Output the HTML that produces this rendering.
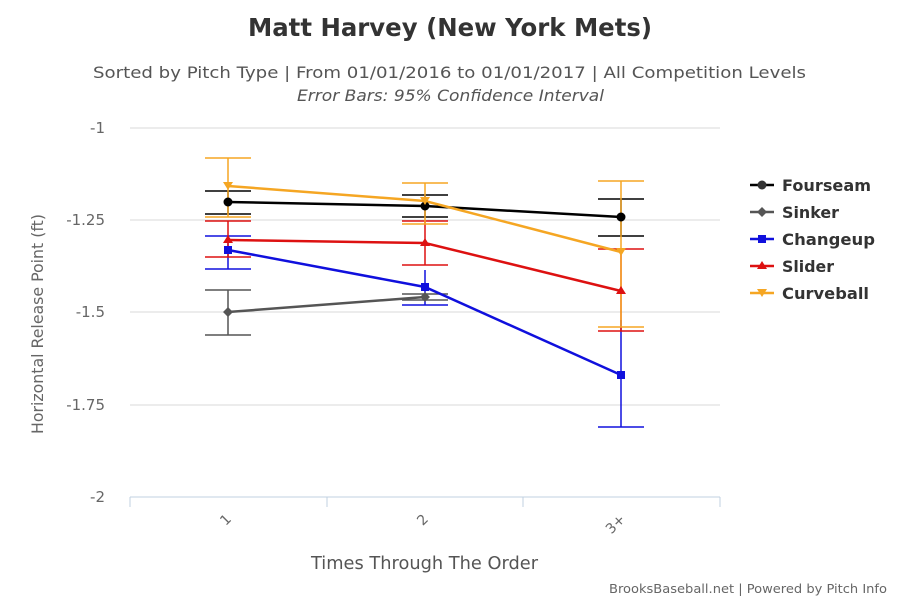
<!DOCTYPE html>
<html><head><style>body{margin:0;background:#fff}svg{display:block}text{font-family:"DejaVu Sans","Liberation Sans",sans-serif}</style></head><body>
<svg width="900" height="600" xmlns="http://www.w3.org/2000/svg">
<rect width="900" height="600" fill="#fff"/>
<text x="248" y="36" font-size="25" font-weight="bold" fill="#333" textLength="404" lengthAdjust="spacingAndGlyphs">Matt Harvey (New York Mets)</text>
<text x="93" y="78" font-size="16" fill="#555" textLength="713" lengthAdjust="spacingAndGlyphs">Sorted by Pitch Type | From 01/01/2016 to 01/01/2017 | All Competition Levels</text>
<text x="297" y="101" font-size="16" font-style="italic" fill="#555" textLength="307" lengthAdjust="spacingAndGlyphs">Error Bars: 95% Confidence Interval</text>
<g stroke="#d8d8d8" stroke-width="1">
<line x1="130" y1="128" x2="720" y2="128"/><line x1="130" y1="220" x2="720" y2="220"/>
<line x1="130" y1="312" x2="720" y2="312"/><line x1="130" y1="405" x2="720" y2="405"/>
</g>
<g stroke="#c0d0e0" stroke-width="1">
<line x1="130" y1="497" x2="720" y2="497"/>
<line x1="130" y1="497" x2="130" y2="507"/><line x1="327" y1="497" x2="327" y2="507"/>
<line x1="523" y1="497" x2="523" y2="507"/><line x1="720" y1="497" x2="720" y2="507"/>
</g>
<g font-size="15" fill="#666" text-anchor="end">
<text x="105" y="133">-1</text><text x="105" y="225">-1.25</text><text x="105" y="317">-1.5</text><text x="105" y="410">-1.75</text><text x="105" y="502">-2</text>
</g>
<g font-size="14" fill="#666" text-anchor="end">
<text transform="translate(232,520) rotate(-45)">1</text>
<text transform="translate(429,520) rotate(-45)">2</text>
<text transform="translate(626,520) rotate(-45)">3+</text>
</g>
<text transform="translate(43,434) rotate(-90)" font-size="16" fill="#666" textLength="220" lengthAdjust="spacingAndGlyphs">Horizontal Release Point (ft)</text>
<text x="311" y="569" font-size="18" fill="#555" textLength="227" lengthAdjust="spacingAndGlyphs">Times Through The Order</text>
<text x="609" y="593" font-size="12" fill="#666" textLength="278" lengthAdjust="spacingAndGlyphs">BrooksBaseball.net | Powered by Pitch Info</text>
<g stroke-width="1.5" fill="none">
<g stroke="#555"><path d="M228 290V335M205 290H251M205 335H251M425 294V300M402 294H448M402 300H448"/></g>
<g stroke="#1010dd"><path d="M228 236V269M205 236H251M205 269H251M425 270V305M402 305H448M621 320V427M598 427H644"/></g>
<g stroke="#dd1111"><path d="M228 221V257M205 221H251M205 257H251M425 221V265M402 221H448M402 265H448M621 249V331M598 249H644M598 331H644"/></g>
<g stroke="#000"><path d="M228 191V214M205 191H251M205 214H251M425 195V217M402 195H448M402 217H448M621 199V236M598 199H644M598 236H644"/></g>
<g stroke="#f5a623"><path d="M228 158V217M205 158H251M205 217H251M425 183V224M402 183H448M402 224H448M621 181V327M598 181H644M598 327H644"/></g>
</g>
<g stroke-width="2.5" fill="none">
<polyline stroke="#555" points="228,312 425,297"/>
<polyline stroke="#1010dd" points="228,250 425,287 621,375"/>
<polyline stroke="#dd1111" points="228,240 425,243 621,291"/>
<polyline stroke="#000" points="228,202 425,206 621,217"/>
<polyline stroke="#f5a623" points="228,186 425,201 621,252"/>
</g>
<path d="M228 307l5 5-5 5-5-5zM425 292l5 5-5 5-5-5z" fill="#555"/>
<path d="M224 246h8v8h-8zM421 283h8v8h-8zM617 371h8v8h-8z" fill="#1010dd"/>
<path d="M228 235l5 8h-10zM425 238l5 8h-10zM621 286l5 8h-10z" fill="#dd1111"/>
<circle cx="228" cy="202" r="4.5"/><circle cx="425" cy="206" r="4.5"/><circle cx="621" cy="217" r="4.5"/>
<path d="M223 182h10l-5 8zM420 197h10l-5 8zM616 248h10l-5 8z" fill="#f5a623"/>
<g font-size="16" font-weight="bold" fill="#333" stroke-width="2.5">
<line x1="750" y1="185" x2="774" y2="185" stroke="#000"/><circle cx="762" cy="185" r="4.5"/><text x="782" y="191" textLength="89" lengthAdjust="spacingAndGlyphs">Fourseam</text>
<line x1="750" y1="212" x2="774" y2="212" stroke="#555"/><path d="M762 207l5 5-5 5-5-5z" fill="#555"/><text x="782" y="218" textLength="57" lengthAdjust="spacingAndGlyphs">Sinker</text>
<line x1="750" y1="239" x2="774" y2="239" stroke="#1010dd"/><path d="M758 235h8v8h-8z" fill="#1010dd"/><text x="782" y="245" textLength="93" lengthAdjust="spacingAndGlyphs">Changeup</text>
<line x1="750" y1="266" x2="774" y2="266" stroke="#dd1111"/><path d="M762 261l5 8h-10z" fill="#dd1111"/><text x="782" y="272" textLength="52" lengthAdjust="spacingAndGlyphs">Slider</text>
<line x1="750" y1="293" x2="774" y2="293" stroke="#f5a623"/><path d="M757 289h10l-5 8z" fill="#f5a623"/><text x="782" y="299" textLength="87" lengthAdjust="spacingAndGlyphs">Curveball</text>
</g>
</svg>
</body></html>
